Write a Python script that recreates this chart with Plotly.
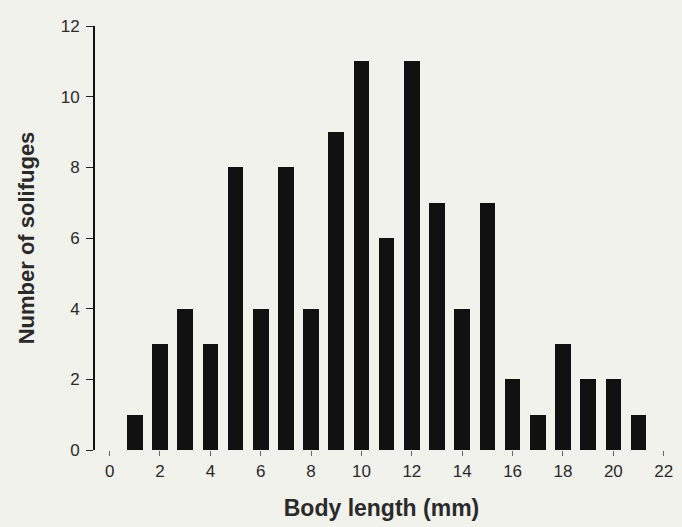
import plotly.graph_objects as go

body_length = list(range(1, 22))
counts = [1, 3, 4, 3, 8, 4, 8, 4, 9, 11, 6, 11, 7, 4, 7, 2, 1, 3, 2, 2, 1]
x_ticks = list(range(0, 23, 2))
y_ticks = list(range(0, 13, 2))

bg = "#f2f2ed"
fig = go.Figure(go.Bar(x=body_length, y=counts, width=0.62,
                       marker=dict(color="#111111", line=dict(width=0))))
fig.update_layout(
    width=674, height=519,
    paper_bgcolor=bg, plot_bgcolor=bg,
    margin=dict(l=87, r=9, t=10, b=77),
    font=dict(family="Liberation Sans, Arial", color="#2a2a2a", size=17),
    showlegend=False,
    bargap=0,
)
fig.update_xaxes(range=[-0.58, 22.17], tickvals=x_ticks, ticks="outside", ticklen=5,
                 tickcolor="#666666", showline=False, showgrid=False, zeroline=False,
                 tickfont=dict(size=17), ticklabelstandoff=1,
                 title=dict(text="<b>Body length (mm)</b>", font=dict(size=23), standoff=19))
fig.update_yaxes(range=[0, 12], tickvals=y_ticks, ticks="outside", ticklen=7,
                 tickcolor="#222222", showline=True, linecolor="#111111", linewidth=2,
                 showgrid=False, zeroline=False, tickfont=dict(size=17), ticklabelstandoff=3,
                 title=dict(text="<b>Number of solifuges</b>", font=dict(size=22), standoff=20))
fig.write_html("out.html",
               post_script="document.body.style.background='%s';" % bg)
